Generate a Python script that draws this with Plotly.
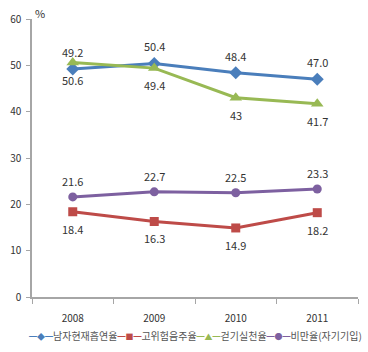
import plotly.graph_objects as go

years = ["2008", "2009", "2010", "2011"]
smoking = [49.2, 50.4, 48.4, 47.0]
drinking = [18.4, 16.3, 14.9, 18.2]
walking = [50.6, 49.4, 43.0, 41.7]
obesity = [21.6, 22.7, 22.5, 23.3]
smoking_lbl = ["49.2", "50.4", "48.4", "47.0"]
drinking_lbl = ["18.4", "16.3", "14.9", "18.2"]
walking_lbl = ["50.6", "49.4", "43", "41.7"]
obesity_lbl = ["21.6", "22.7", "22.5", "23.3"]
names = ["남자현재흡연율", "고위험음주율", "걷기실천율", "비만율(자기기입)"]
y_ticks = [0, 10, 20, 30, 40, 50, 60]

colors = ["#4A7EBB", "#BE4B48", "#98B954", "#7D60A0"]
symbols = ["diamond", "square", "triangle-up", "circle"]
sizes = [10, 9, 11, 9]
glyphs = ["◆", "■", "▲", "●"]
series = [smoking, drinking, walking, obesity]
labels = [smoking_lbl, drinking_lbl, walking_lbl, obesity_lbl]
shifts = [17, -17, -17, 16]

FONT = "Noto Sans CJK KR"
fig = go.Figure()
for i in range(4):
    fig.add_trace(go.Scatter(
        x=years, y=series[i], name=names[i], mode="lines+markers",
        line=dict(color=colors[i], width=3),
        marker=dict(symbol=symbols[i], size=sizes[i], color=colors[i]),
        showlegend=False,
    ))
    for k, (y, t) in enumerate(zip(series[i], labels[i])):
        fig.add_annotation(x=k, y=y, text=t, showarrow=False, yshift=shifts[i],
                           font=dict(family=FONT, size=11, color="#333333"))

fig.add_annotation(xref="paper", yref="paper", x=0, y=1, xanchor="left", yanchor="bottom",
                   xshift=1, yshift=-4, text="%", showarrow=False,
                   font=dict(family=FONT, size=11, color="#333333"))

legend_text = "".join(
    f"<span style='color:{colors[i]};font-size:8px'>━{glyphs[i]}━</span>"
    f"<span style='color:#555555'>{names[i]}</span>"
    for i in range(4)
)
fig.add_annotation(xref="paper", yref="paper", x=0.5, y=0, xanchor="center", yanchor="middle",
                   yshift=-38, text=legend_text, showarrow=False,
                   font=dict(family=FONT, size=10, color="#555555"))

fig.update_layout(
    width=368, height=352,
    margin=dict(l=32, r=10, t=13, b=55),
    paper_bgcolor="white", plot_bgcolor="white",
    font=dict(family=FONT, size=10, color="#333333"),
)
fig.update_xaxes(
    type="category", range=[-0.5, 3.5], showgrid=False, showline=True,
    linecolor="#A6A6A6", linewidth=1.5, ticks="outside", tickson="boundaries",
    ticklen=5, tickcolor="#A6A6A6", ticklabelstandoff=11,
    tickfont=dict(family=FONT, size=10, color="#333333"),
)
fig.update_yaxes(
    range=[0, 60], tickvals=y_ticks, showgrid=False, showline=True, zeroline=False,
    linecolor="#A6A6A6", linewidth=1.5, ticks="outside", ticklen=4,
    tickcolor="#A6A6A6", ticklabelstandoff=3,
    tickfont=dict(family=FONT, size=10, color="#333333"),
)
fig.write_html("out.html")
